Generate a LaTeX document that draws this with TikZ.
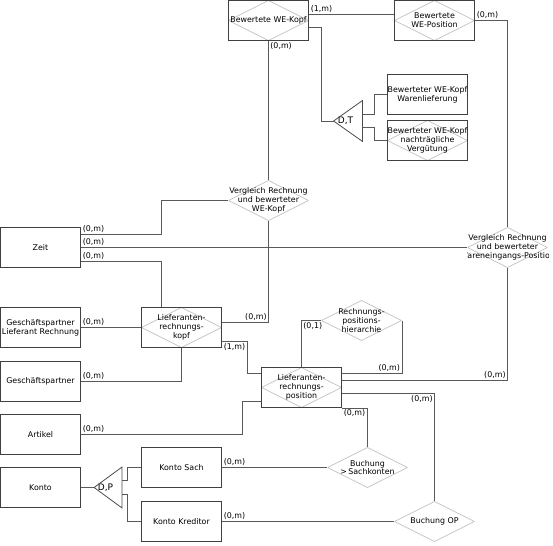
\documentclass[tikz,border=0pt]{standalone}
\usepackage{fontspec}
\setmainfont{DejaVu Sans}
\begin{document}
\begin{tikzpicture}[x=1pt, y=1pt,
		font=\fontsize{7.9}{8.8}\selectfont,
		line width=0.8pt,
		ent/.style={draw=black!75, minimum width=80, minimum height=40, inner sep=0, align=center},
		diag/.style={draw=black!22, line width=0.7pt},
		rel/.style={minimum width=80, minimum height=40, inner sep=0, align=center,
			path picture={\draw[diag] (path picture bounding box.north) -- (path picture bounding box.east) -- (path picture bounding box.south) -- (path picture bounding box.west) -- cycle;}},
		assoc/.style={ent, rel},
		isa/.style={minimum width=28, minimum height=40, inner sep=0},
		conn/.style={draw=black!65},
		card/.style={inner sep=1.5pt}]
		\useasboundingbox (-0.5,0.5) rectangle (552.5,-544.5);
		\def\up{14};
		% entities
		\node[assoc] (wekopf) at (268,-20) {Bewertete WE-Kopf};
		\node[assoc] (wepos) at (434,-20) {Bewertete\\WE-Position};
		\node[isa] (dt) at (347.5,-120.5) {\fontsize{9}{10}\selectfont\hspace*{-5pt}D,T};
		\draw[draw=black!70] (dt.west) -- (dt.north east) -- (dt.south east) -- cycle;
		\node[ent] (warenl) at (427,-94) {Bewerteter WE-Kopf\\Warenlieferung};
		\node[assoc] (nachtr) at (427,-140) {Bewerteter WE-Kopf\\nachträgliche\\Vergütung};
		\node[rel] (v1) at (268,-200) {Vergleich Rechnung\\und bewerteter\\WE-Kopf};
		\begin{scope}
			\clip (467,-225) rectangle (548,-270);
			\node[rel] (v2) at (507,-247) {Vergleich Rechnung\\und bewerteter\\\makebox[76pt]{Wareneingangs-Position}};
		\end{scope}
		\node[ent] (zeit) at (40,-247) {Zeit};
		\node[assoc] (kopf) at (181,-327) {Lieferanten-\\rechnungs-\\kopf};
		\node[ent] (gplr) at (40,-327) {Geschäftspartner\\Lieferant Rechnung};
		\node[ent] (gp) at (40,-381) {Geschäftspartner};
		\node[rel] (hier) at (361,-320) {Rechnungs-\\positions-\\hierarchie};
		\node[assoc] (pos) at (301,-387) {Lieferanten-\\rechnungs-\\position};
		\node[ent] (artikel) at (40,-434) {Artikel};
		\node[ent] (konto) at (40,-487) {Konto};
		\node[isa, minimum width=27] (dp) at (107.5,-487) {\fontsize{9}{10}\selectfont\hspace*{-5pt}D,P};
		\draw[draw=black!70] (dp.west) -- (dp.north east) -- (dp.south east) -- cycle;
		\node[ent] (sach) at (181,-467) {Konto Sach};
		\node[ent] (kred) at (181,-521) {Konto Kreditor};
		\node[rel] (bsach) at (367,-467) {Buchung\\>\,Sachkonten};
		\node[rel] (bop) at (434,-521) {Buchung OP};
		% connectors
		\draw[conn] ([yshift=6]wekopf.east) node[card, above right]{(1,m)} -- ([yshift=6]wepos.west);
		\draw[conn] ([yshift=-7]wekopf.east) -| ([xshift=-12]dt.west) -- (dt.west);
		\draw[conn] ([yshift=6.5]dt.east) -| ([xshift=-13]warenl.west) -- (warenl.west);
		\draw[conn] ([yshift=-6.5]dt.east) -| ([xshift=-13]nachtr.west) -- (nachtr.west);
		\draw[conn] (wepos.east) node[card, above right]{(0,m)} -| (v2.north);
		\draw[conn] (wekopf.south) node[card, below right]{(0,m)} -- (v1.north);
		\draw[conn] ([yshift=\up-1]zeit.east) node[card, above right]{(0,m)} -| ([xshift=-20]kopf.north |- v1.west) -- (v1.west);
		\draw[conn] (zeit.east) node[card, above right]{(0,m)} -- (v2.west);
		\draw[conn] ([yshift=-\up]zeit.east) node[card, above right]{(0,m)} -| ([xshift=-20]kopf.north);
		\draw[conn] (v1.south) |- ([yshift=5]kopf.east) coordinate (k1);
		\node[card, above left] at (k1 -| v1.south) {(0,m)};
		\draw[conn] (gplr.east) node[card, above right]{(0,m)} -- (kopf.west);
		\draw[conn] (gp.east) node[card, above right]{(0,m)} -| (kopf.south);
		\draw[conn] ([yshift=-\up]kopf.east) node[card, below right]{(1,m)} -| ([xshift=-\up,yshift=\up]pos.west) -- ([yshift=\up]pos.west);
		\draw[conn] (hier.west) -| (pos.north);
		\node[card, below right] at (hier.west -| pos.north) {(0,1)};
		\draw[conn] (hier.east) |- ([yshift=\up]pos.east) coordinate (p1);
		\node[card, above left] at (p1 -| hier.east) {(0,m)};
		\draw[conn] ([yshift=7]pos.east) coordinate (p2) -| (v2.south);
		\node[card, above left] at (p2 -| v2.south) {(0,m)};
		\draw[conn] ([yshift=-6]pos.east) coordinate (p3) -| (bop.north);
		\node[card, below left] at (p3 -| bop.north) {(0,m)};
		\draw[conn] (pos.south east) node[card, below right]{(0,m)} -| (bsach.north);
		\draw[conn] (artikel.east) node[card, above right]{(0,m)} -| ([xshift=-19,yshift=-\up]pos.west) -- ([yshift=-\up]pos.west);
		\draw[conn] (konto.east) -- (dp.west);
		\draw[conn] ([yshift=7]dp.east) -| ([xshift=-\up]sach.west) -- (sach.west);
		\draw[conn] ([yshift=-7]dp.east) -| ([xshift=-\up]kred.west) -- (kred.west);
		\draw[conn] (sach.east) node[card, above right]{(0,m)} -- (bsach.west);
		\draw[conn] (kred.east) node[card, above right]{(0,m)} -- (bop.west);
\end{tikzpicture}
\end{document}
